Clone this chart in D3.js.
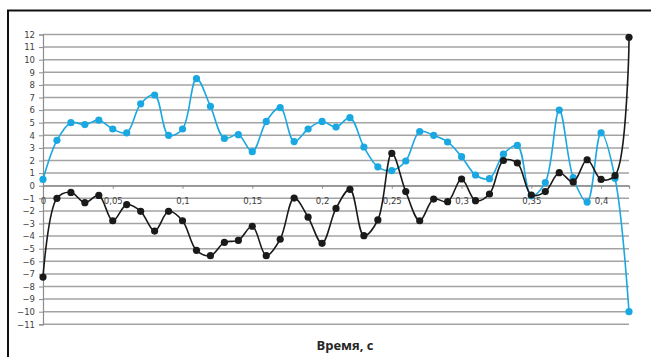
<!DOCTYPE html>
<html>
<head>
<meta charset="utf-8">
<script src="https://cdn.jsdelivr.net/npm/d3@7"></script>
<style>
  html, body { margin: 0; padding: 0; background: #fff; }
  svg { display: block; }
</style>
</head>
<body>
<svg id="chart" width="651" height="357"></svg>
<script>
// Time samples, s
const time = [0, 0.01, 0.02, 0.03, 0.04, 0.05, 0.06, 0.07, 0.08, 0.09,
  0.10, 0.11, 0.12, 0.13, 0.14, 0.15, 0.16, 0.17, 0.18, 0.19,
  0.20, 0.21, 0.22, 0.23, 0.24, 0.25, 0.26, 0.27, 0.28, 0.29,
  0.30, 0.31, 0.32, 0.33, 0.34, 0.35, 0.36, 0.37, 0.38, 0.39,
  0.40, 0.41, 0.42];

// Blue series
const seriesBlue = [0.5, 3.6, 5.0, 4.85, 5.2, 4.5, 4.2, 6.5, 7.2, 4.0,
  4.5, 8.5, 6.3, 3.75, 4.05, 2.7, 5.1, 6.2, 3.5, 4.5,
  5.1, 4.65, 5.4, 3.07, 1.5, 1.2, 1.96, 4.3, 4.0, 3.47,
  2.3, 0.85, 0.56, 2.5, 3.2, -0.8, 0.25, 6.0, 0.65, -1.3,
  4.2, 0.6, -10.0];

// Black series
const seriesBlack = [-7.25, -1.0, -0.53, -1.35, -0.77, -2.78, -1.5, -2.03, -3.6, -2.03,
  -2.78, -5.13, -5.55, -4.5, -4.34, -3.22, -5.55, -4.25, -0.98, -2.5,
  -4.57, -1.8, -0.29, -3.97, -2.72, 2.57, -0.47, -2.78, -1.06, -1.27,
  0.53, -1.19, -0.66, 2.0, 1.8, -0.74, -0.47, 1.03, 0.3, 2.06,
  0.5, 0.8, 11.78];

const yTicks = d3.range(-11, 13);
const xTicks = [0, 0.05, 0.1, 0.15, 0.2, 0.25, 0.3, 0.35, 0.4];
const xTitle = "Время, с";

const svg = d3.select("#chart");
const font = "'DejaVu Sans', sans-serif";

const x = d3.scaleLinear().domain([0, 0.42]).range([43, 629]);
const y = d3.scaleLinear().domain([-11, 12]).range([324.3, 34.5]);

// Outer frame (left and top edges)
svg.append("path")
  .attr("d", "M8,357 L8,10.5 L651,10.5")
  .attr("fill", "none").attr("stroke", "#111").attr("stroke-width", 2);

// Horizontal gridlines
svg.append("g").selectAll("line").data(yTicks).join("line")
  .attr("x1", x(0)).attr("x2", x(0.42))
  .attr("y1", d => y(d)).attr("y2", d => y(d))
  .attr("stroke", "#a3a3a3").attr("stroke-width", 1.5);

// Y axis
const yAxis = svg.append("g")
  .attr("transform", `translate(${x(0)},0)`)
  .call(d3.axisLeft(y).tickValues(yTicks).tickSize(4).tickPadding(4).tickFormat(d3.format("d")));
yAxis.select(".domain").attr("stroke", "#8c8c8c").attr("stroke-width", 1.2);
yAxis.selectAll(".tick line").attr("stroke", "#8c8c8c");
yAxis.selectAll("text").attr("fill", "#404040").style("font", `8.5px ${font}`);

// X axis along y = 0
const fmtX = d => d3.format("")(+d.toFixed(2)).replace(".", ",");
const xAxis = svg.append("g")
  .attr("transform", `translate(0,${y(0)})`)
  .call(d3.axisBottom(x).tickValues(xTicks).tickSize(3).tickPadding(9).tickFormat(fmtX));
xAxis.select(".domain").attr("stroke", "#8c8c8c").attr("stroke-width", 1.2);
xAxis.selectAll(".tick line").attr("stroke", "#8c8c8c");
xAxis.selectAll("text").attr("fill", "#404040").style("font", `8.5px ${font}`);

// X axis title
svg.append("text")
  .attr("x", 345).attr("y", 350)
  .attr("text-anchor", "middle")
  .attr("fill", "#262626")
  .style("font", `bold 13px 'Open Sans', sans-serif`)
  .text(xTitle);

// Smoothed series lines with markers
const line = d3.line()
  .x((d, i) => x(time[i]))
  .y(d => y(d))
  .curve(d3.curveCatmullRom.alpha(0.5));

function drawSeries(values, color) {
  const g = svg.append("g");
  g.append("path")
    .datum(values)
    .attr("d", line)
    .attr("fill", "none")
    .attr("stroke", color)
    .attr("stroke-width", 1.6);
  g.selectAll("circle").data(values).join("circle")
    .attr("cx", (d, i) => x(time[i]))
    .attr("cy", d => y(d))
    .attr("r", 3.6)
    .attr("fill", color);
}

drawSeries(seriesBlue, "#1aa8e2");
drawSeries(seriesBlack, "#1a1a1a");
</script>
</body>
</html>
